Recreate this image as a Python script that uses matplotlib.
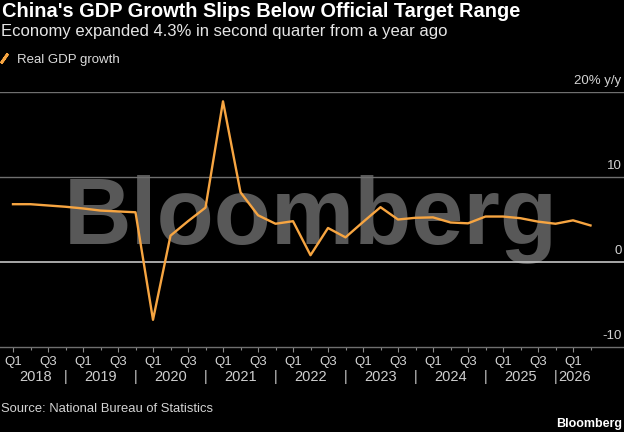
import matplotlib
matplotlib.use("Agg")
import matplotlib.pyplot as plt
from matplotlib.lines import Line2D
import matplotlib.transforms as mtransforms

# ---------------- data ----------------
years = ["2018", "2019", "2020", "2021", "2022", "2023", "2024", "2025", "2026"]
quarter_names = ["Q1", "Q2", "Q3", "Q4"]
# Real GDP growth, % y/y, quarterly from 2018 Q1 to 2026 Q2
gdp_growth = [6.8, 6.8, 6.65, 6.5, 6.3, 6.05, 5.95, 5.85,
              -6.8, 3.1, 4.8, 6.4, 18.9, 8.2, 5.5, 4.5,
              4.8, 0.8, 4.0, 2.9, 4.7, 6.45, 5.0, 5.2,
              5.25, 4.65, 4.55, 5.35, 5.35, 5.15, 4.75, 4.5,
              4.9, 4.3]
y_ticks = [-10, 0, 10, 20]
y_tick_labels = ["-10", "0", "10", "20% y/y"]

title = "China's GDP Growth Slips Below Official Target Range"
subtitle = "Economy expanded 4.3% in second quarter from a year ago"
series_name = "Real GDP growth"
source = "Source: National Bureau of Statistics"

# ---------------- style ----------------
W, H = 624, 432
ORANGE = "#f7a541"
FONT = "Liberation Sans"
plt.rcParams["font.family"] = [FONT, "DejaVu Sans"]

fig = plt.figure(figsize=(W / 100, H / 100), dpi=100, facecolor="black")


def fx(px):
    return px / W


def fy(py):
    return 1 - py / H


ax_top, ax_bot = 92, 347
ax = fig.add_axes([0, fy(ax_bot), 1, (ax_bot - ax_top) / H])
ax.set_facecolor("black")

n = len(gdp_growth)
xs = list(range(n))
qpx = 17.5      # pixels per quarter
x0px = 13       # pixel of first quarter
ax.set_xlim(-x0px / qpx, (W - x0px) / qpx)
ax.set_ylim(y_ticks[0], y_ticks[-1])

for s in ax.spines.values():
    s.set_visible(False)
ax.spines["bottom"].set_visible(True)
ax.spines["bottom"].set_color("#6f6f6f")
ax.spines["bottom"].set_linewidth(1.0)
ax.set_yticks([])

# gridlines
for v in y_ticks[1:]:
    if v == 0:
        ax.axhline(v, color="#c4c4c4", lw=1.2, zorder=1)
    else:
        ax.axhline(v, color="#6f6f6f", lw=1.0, zorder=1)

# y labels on the right, above lines
for v, lab in zip(y_ticks, y_tick_labels):
    ax.annotate(lab, xy=(1, v), xycoords=("axes fraction", "data"),
                xytext=(-1.8, 7.6), textcoords="offset points",
                ha="right", va="center", color="#d4d4d4", fontsize=9.5)

# x ticks
major = list(range(0, n, 2))
ax.set_xticks(major)
ax.set_xticklabels([quarter_names[i % 4] for i in major])
ax.set_xticks(list(range(1, n, 2)), minor=True)
ax.tick_params(axis="x", which="major", length=3.8, width=0.8, color="#8a8a8a",
               labelcolor="#d4d4d4", labelsize=9.5, pad=3)
ax.tick_params(axis="x", which="minor", length=2.2, width=0.8, color="#8a8a8a")

# year labels and separators
trans = mtransforms.blended_transform_factory(ax.transData, ax.transAxes)
year_y = (ax_bot - 376.7) / (ax_bot - ax_top)
year_pos = [4 * k + 1 for k in range(len(years))]
year_pos[0] = 1.3
year_pos[-1] = 32.1
for yr, p in zip(years, year_pos):
    ax.text(p, year_y, yr, transform=trans, ha="center", va="center",
            color="#cfcfcf", fontsize=10.5)
for k in range(len(years) - 1):
    ax.text(4 * k + 3, year_y, "|", transform=trans, ha="center", va="center",
            color="#cfcfcf", fontsize=10.5)

# data line
ax.plot(xs, gdp_growth, color=ORANGE, lw=1.7, zorder=3, solid_joinstyle="round")

# ---------------- texts ----------------
fig.canvas.draw()
r = fig.canvas.get_renderer()


def fit(t, width_px):
    bb = t.get_window_extent(renderer=r)
    t.set_fontsize(t.get_fontsize() * width_px / bb.width)


t_title = fig.text(fx(2), fy(16.7), title, color="white", fontsize=12,
                   fontweight="bold", va="baseline", ha="left")
fit(t_title, 515)
t_sub = fig.text(fx(1), fy(36), subtitle, color="#e6e6e6", fontsize=12,
                 va="baseline", ha="left")
fit(t_sub, 445)

# watermark
wm = ax.text(fx(64), fy(244), "Bloomberg", transform=fig.transFigure,
             color="#585858", fontsize=70, fontweight="bold",
             va="baseline", ha="left", zorder=0.8)
fit(wm, 494)

# legend
handle = Line2D([], [], ls="none", marker=(2, 2, -35), markersize=8.5,
                markeredgewidth=2.0, color=ORANGE)
leg = fig.legend([handle], [series_name], loc="center left",
                 bbox_to_anchor=(fx(-1.5), fy(59.5)), frameon=False,
                 borderpad=0, borderaxespad=0, handlelength=0.8,
                 handletextpad=0.55, fontsize=10, labelcolor="#dcdcdc")
fit(leg.get_texts()[0], 103)

t_src = fig.text(fx(1), fy(412.5), source, color="#d4d4d4", fontsize=10,
                 va="baseline", ha="left")
fit(t_src, 212)
t_bb = fig.text(fx(622), fy(427), "Bloomberg", color="white", fontsize=10,
                fontweight="bold", va="baseline", ha="right")
fit(t_bb, 66)

fig.savefig("out.png", dpi=100, facecolor="black")
